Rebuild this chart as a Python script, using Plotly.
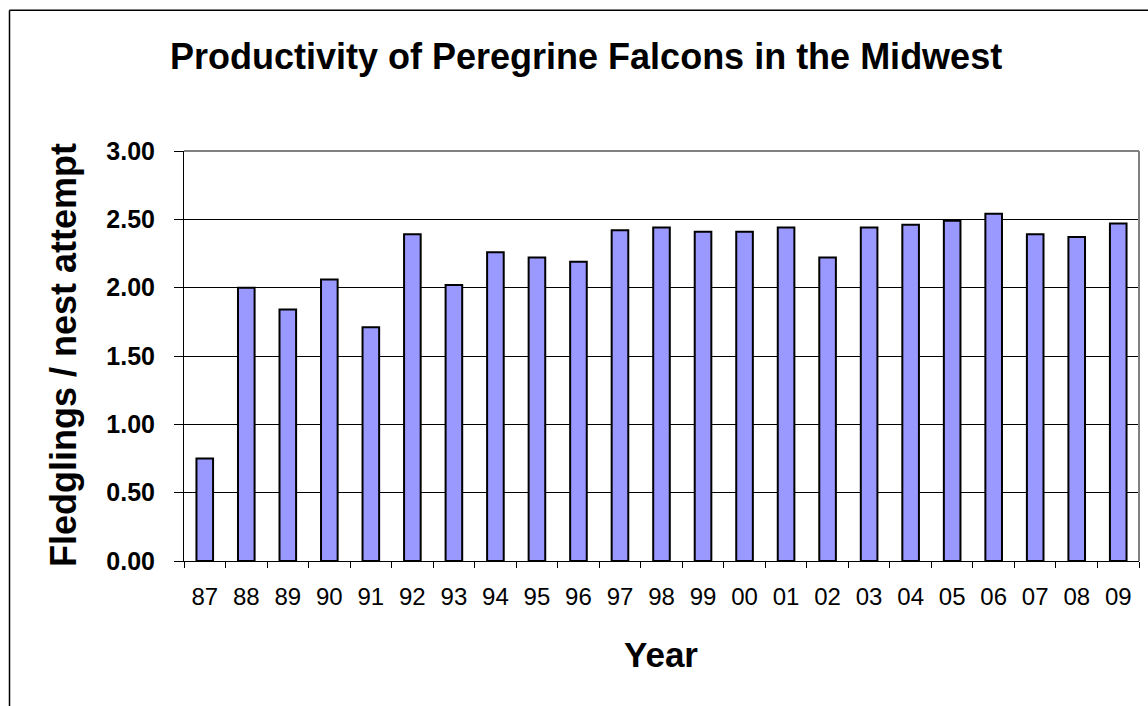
import plotly.graph_objects as go

years = ["87", "88", "89", "90", "91", "92", "93", "94", "95", "96", "97", "98",
         "99", "00", "01", "02", "03", "04", "05", "06", "07", "08", "09"]
productivity = [0.75, 2.00, 1.84, 2.06, 1.71, 2.39, 2.02, 2.26, 2.22, 2.19, 2.42, 2.44,
                2.41, 2.41, 2.44, 2.22, 2.44, 2.46, 2.49, 2.54, 2.39, 2.37, 2.47]
y_ticks = [0, 0.5, 1.0, 1.5, 2.0, 2.5, 3.0]

title_text = "Productivity of Peregrine Falcons in the Midwest"
y_title = "Fledglings / nest attempt"
x_title = "Year"

FONT = "Arial, Liberation Sans, sans-serif"
W, H = 1148, 706
L, R, T, B = 184, 9, 150.5, 144.5
pw = W - L - R
ph = H - T - B


def px_x(x):
    return (x - L) / pw


def px_y(y):
    return (H - B - y) / ph


fig = go.Figure()
fig.add_trace(go.Bar(
    x=years, y=productivity,
    marker=dict(color="#9999FF", line=dict(color="black", width=2)),
    hoverinfo="x+y",
))

fig.update_layout(
    width=W, height=H,
    margin=dict(l=L, r=R, t=T, b=B, pad=0),
    paper_bgcolor="white", plot_bgcolor="white",
    bargap=0.6,
    showlegend=False,
    font=dict(family=FONT, color="black"),
    xaxis=dict(
        type="category", categoryorder="array", categoryarray=years,
        showline=True, linecolor="black", linewidth=1,
        ticks="outside", tickson="boundaries", ticklen=6, tickcolor="black",
        tickfont=dict(size=24, family=FONT, color="black"),
        ticklabelstandoff=14,
        showgrid=False, zeroline=False,
    ),
    yaxis=dict(
        range=[0, 3], tickvals=y_ticks, tickformat=".2f",
        showline=True, linecolor="black", linewidth=1,
        ticks="outside", ticklen=9, tickcolor="black",
        tickfont=dict(size=25, family=FONT, color="black", weight="bold"),
        ticklabelstandoff=14,
        showgrid=True, gridcolor="black", gridwidth=1,
        zeroline=False,
    ),
    shapes=[
        # gray top and right plot borders
        dict(type="line", xref="paper", yref="paper", x0=0, x1=1, y0=1, y1=1,
             line=dict(color="#808080", width=2), layer="above"),
        dict(type="line", xref="paper", yref="paper", x0=1, x1=1, y0=0, y1=1,
             line=dict(color="#808080", width=2), layer="above"),
        # outer chart border (left and top visible)
        dict(type="line", xref="paper", yref="paper",
             x0=px_x(9.5), x1=px_x(9.5), y0=px_y(9.5), y1=px_y(H + 20),
             line=dict(color="black", width=1.5), layer="above"),
        dict(type="line", xref="paper", yref="paper",
             x0=px_x(9.5), x1=px_x(W + 20), y0=px_y(9.5), y1=px_y(9.5),
             line=dict(color="black", width=1.5), layer="above"),
    ],
    annotations=[
        dict(text="<b>" + title_text + "</b>", xref="paper", yref="paper",
             x=px_x(586), y=px_y(55.5), xanchor="center", yanchor="middle",
             showarrow=False, font=dict(size=36, family=FONT, color="black")),
        dict(text="<b>" + y_title + "</b>", xref="paper", yref="paper",
             x=px_x(63), y=px_y(355), xanchor="center", yanchor="middle",
             textangle=-90, showarrow=False,
             font=dict(size=36, family=FONT, color="black")),
        dict(text="<b>" + x_title + "</b>", xref="paper", yref="paper",
             x=px_x(660.5), y=px_y(655), xanchor="center", yanchor="middle",
             showarrow=False, font=dict(size=35, family=FONT, color="black")),
    ],
)

fig.write_html("out.html", config={"displayModeBar": False},
               post_script="document.body.style.margin='0';")
